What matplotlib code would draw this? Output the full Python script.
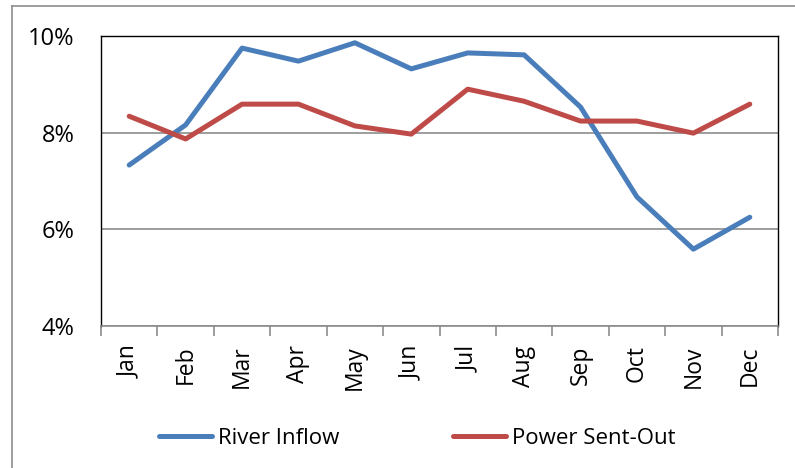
import matplotlib
matplotlib.use("Agg")
import matplotlib.pyplot as plt
from matplotlib.lines import Line2D
from matplotlib.ticker import FixedLocator, FuncFormatter

months = ["Jan", "Feb", "Mar", "Apr", "May", "Jun", "Jul", "Aug", "Sep", "Oct", "Nov", "Dec"]
river_inflow = [7.33, 8.16, 9.75, 9.48, 9.86, 9.32, 9.65, 9.61, 8.53, 6.67, 5.59, 6.25]
power_sent_out = [8.34, 7.87, 8.59, 8.59, 8.14, 7.97, 8.90, 8.65, 8.24, 8.24, 7.99, 8.59]
y_ticks = [4, 6, 8, 10]

plt.rcParams['font.family'] = ['Open Sans', 'DejaVu Sans']

W, H = 795, 468
fig = plt.figure(figsize=(W / 100, H / 100), dpi=100)
ax = fig.add_axes([101 / W, 1 - 326 / H, 677 / W, 290 / H])

x = list(range(len(months)))
ax.plot(x, river_inflow, color="#4A7EBB", lw=3.6, solid_capstyle="round", solid_joinstyle="round", label="River Inflow")
ax.plot(x, power_sent_out, color="#BE4B48", lw=3.6, solid_capstyle="round", solid_joinstyle="round", label="Power Sent-Out")

ax.set_xlim(-0.5, len(months) - 0.5)
ax.set_ylim(4, 10)
ax.yaxis.set_major_locator(FixedLocator(y_ticks))
ax.yaxis.set_major_formatter(FuncFormatter(lambda v, p: f"{v:.0f}%"))
ax.grid(axis="y", color="#8C8C8C", lw=1.2)
ax.set_axisbelow(True)

ax.set_xticks([i - 0.5 for i in range(len(months) + 1)])
ax.set_xticklabels([])
ax.set_xticks(x, minor=True)
ax.set_xticklabels(months, minor=True, rotation=90, fontsize=16.5)
ax.tick_params(axis="x", which="major", length=7, color="#8C8C8C", width=1.2, direction="out")
ax.tick_params(axis="x", which="minor", length=0, pad=14)
ax.tick_params(axis="y", length=0, labelsize=17, pad=19)

for s in ax.spines.values():
    s.set_color("#000000")
    s.set_linewidth(1.0)
ax.spines["bottom"].set_color("#8C8C8C")
ax.spines["bottom"].set_linewidth(1.2)

fig.legend(loc="center", bbox_to_anchor=(0.525, 1 - 438 / H), ncol=2, frameon=False,
           fontsize=16, handlelength=2.4, handletextpad=0.27, columnspacing=5.1)

fig.add_artist(Line2D([12 / W, 1], [1 - 6 / H, 1 - 6 / H], color="#8C8C8C", lw=1.2, transform=fig.transFigure))
fig.add_artist(Line2D([12 / W, 12 / W], [0, 1 - 6 / H], color="#8C8C8C", lw=1.2, transform=fig.transFigure))

fig.savefig("out.png", dpi=100)
